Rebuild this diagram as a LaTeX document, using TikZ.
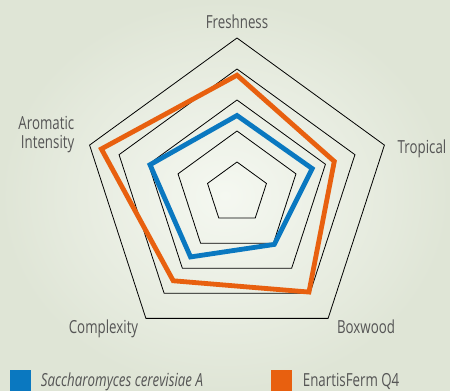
\documentclass[tikz,border=0pt]{standalone}
\usepackage{fontspec}
\setmainfont{Open Sans}[FakeStretch=0.74]
\usetikzlibrary{positioning,calc}
\definecolor{yeastblue}{HTML}{0A78C0}
\definecolor{qorange}{HTML}{E8600F}
\definecolor{labelgray}{HTML}{555555}
\definecolor{leafpale}{HTML}{F5F8F1}
\definecolor{leafdark}{HTML}{DFE5D6}

\begin{document}
\begin{tikzpicture}[x=1pt, y=1pt,
	ring/.style={draw=black, line width=0.8pt},
	series/.style={line width=4.8pt, line join=miter},
	axislabel/.style={text=labelgray, inner sep=0pt, font=\fontsize{18}{18.5}\selectfont},
	legendbox/.style={minimum size=21pt, inner sep=0pt, anchor=south west}]
	\useasboundingbox (0,0) rectangle (450,391);
	\shade[inner color=leafpale, outer color=leafdark] (0,0) rectangle (450,391);

	\coordinate (c) at (237,198);
	\begin{scope}[shift={(c)}]
		% five rings, 31pt apart
		\foreach \r in {1,...,5}
			\draw[ring] (90:31*\r) -- (18:31*\r) -- (-54:31*\r) -- (-126:31*\r) -- (162:31*\r) -- cycle;
		% EnartisFerm Q4
		\draw[series, qorange] (90:31*3.8) -- (18:31*3.3) -- (-54:31*3.95) -- (-126:31*3.5) -- (162:31*4.6) -- cycle;
		% Saccharomyces cerevisiae A
		\draw[series, yeastblue] (90:31*2.5) -- (18:31*2.55) -- (-54:31*2.05) -- (-126:31*2.55) -- (162:31*2.95) -- cycle;
	\end{scope}

	\node[axislabel, anchor=base] (fresh) at (237,362.7) {Freshness};
	\node[axislabel, anchor=base west] (trop) at (397.5,237.7) {Tropical};
	\node[axislabel, anchor=base] (box) at (366,57.7) {Boxwood};
	\node[axislabel, anchor=base] (compl) at (103.5,57.7) {Complexity};
	\node[axislabel, anchor=base east, align=right] (arom) at (74.5,242.7) {Aromatic\\Intensity};

	\node[legendbox, fill=yeastblue] (bluekey) at (9.3,0) {};
	\node[axislabel, anchor=base west] (bluetext) at (40.7,5) {\itshape Saccharomyces cerevisiae A};
	\node[legendbox, fill=qorange] (orangekey) at (271,0) {};
	\node[axislabel, anchor=base west] (orangetext) at (302.7,5) {EnartisFerm Q4};
\end{tikzpicture}
\end{document}
